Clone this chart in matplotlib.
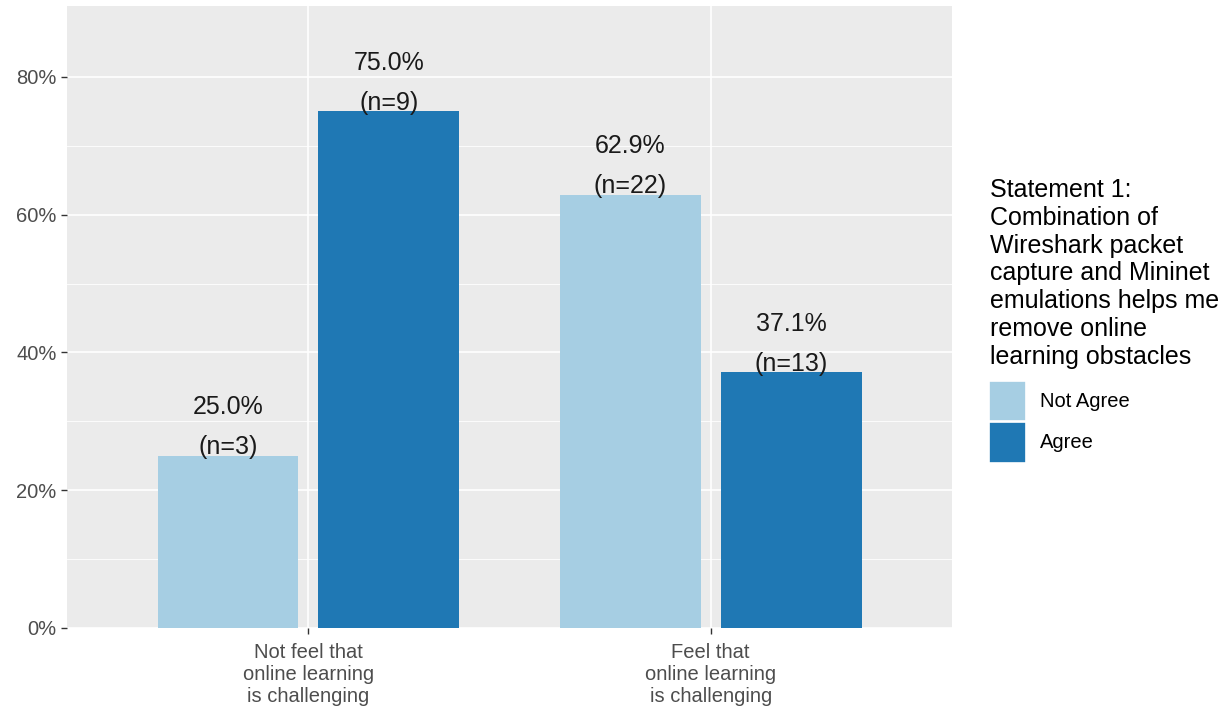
import numpy as np
import matplotlib
matplotlib.use("Agg")
import matplotlib.pyplot as plt
from matplotlib.patches import Patch
from matplotlib.ticker import FuncFormatter, MultipleLocator, FixedLocator

plt.rcParams['font.family'] = ['Liberation Sans', 'DejaVu Sans']

# data
categories = ['Not feel that\nonline learning\nis challenging',
              'Feel that\nonline learning\nis challenging']
groups = ['Not Agree', 'Agree']
pct_not_agree = [25.0, 62.9]
pct_agree = [75.0, 37.1]
n_not_agree = [3, 22]
n_agree = [9, 13]
colors = ['#A6CEE3', '#1F78B4']
legend_title = ('Statement 1:\nCombination of\nWireshark packet\ncapture and Mininet\n'
                'emulations helps me\nremove online\nlearning obstacles')

fig = plt.figure(figsize=(12.3, 7.08), dpi=100)
ax = fig.add_axes([0.0545, 0.113, 0.7195, 0.8785])
ax.set_facecolor('#EBEBEB')

x = np.arange(1, len(categories) + 1)
offset = 0.2
width = 0.35
series = [(pct_not_agree, n_not_agree), (pct_agree, n_agree)]
for i, (vals, ns) in enumerate(series):
    xs = x + (i * 2 - 1) * offset
    ax.bar(xs, vals, width=width, color=colors[i], zorder=3, label=groups[i])
    for xi, v, n in zip(xs, vals, ns):
        ax.annotate(f'{v:.1f}%', (xi, v), xytext=(0, 35), textcoords='offset points',
                    ha='center', va='center', fontsize=18, color='#1a1a1a', zorder=4)
        ax.annotate(f'(n={n})', (xi, v), xytext=(0, 6), textcoords='offset points',
                    ha='center', va='center', fontsize=18, color='#1a1a1a', zorder=4)

ax.set_xlim(0.4, 2.6)
ax.set_ylim(0, 90.3)
ax.set_xticks(x)
ax.set_xticklabels(categories, fontsize=14.5, color='#4D4D4D', linespacing=1.22)
ax.yaxis.set_major_locator(MultipleLocator(20))
ax.yaxis.set_minor_locator(FixedLocator([10, 30, 50, 70]))
ax.yaxis.set_major_formatter(FuncFormatter(lambda v, p: f'{v:.0f}%'))
ax.tick_params(axis='y', which='major', labelsize=14.5, labelcolor='#4D4D4D',
               color='#333333', length=4, width=1)
ax.tick_params(axis='y', which='minor', length=0)
ax.tick_params(axis='x', labelsize=14.5, labelcolor='#4D4D4D', color='#333333',
               length=4, width=1, pad=6.5)
ax.grid(which='major', color='white', linewidth=1.2, zorder=0)
ax.grid(which='minor', axis='y', color='white', linewidth=0.6, zorder=0)
ax.set_axisbelow(True)
for s in ax.spines.values():
    s.set_visible(False)

# legend title drawn on its own so the gap to the keys can be set
fig.text(0.805, 1 - 178 / 708, legend_title, ha='left', va='top',
         fontsize=18, linespacing=1.2, color='black')

handles = [Patch(facecolor=colors[i], edgecolor='white', linewidth=1.2, label=groups[i])
           for i in range(2)]
leg = fig.legend(handles=handles, loc='upper left',
                 bbox_to_anchor=(0.804, 1 - 381 / 708), frameon=False, fontsize=14.5,
                 handlelength=1.85, handleheight=2.7, labelspacing=0.05,
                 handletextpad=0.7, borderaxespad=0, borderpad=0)

fig.savefig('out.png', dpi=100)
